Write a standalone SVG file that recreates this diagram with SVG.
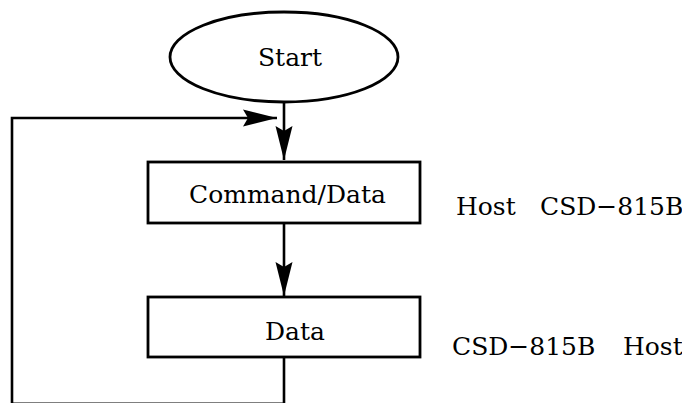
<svg xmlns="http://www.w3.org/2000/svg" width="682" height="403" viewBox="0 0 682 403">
<style>
.shape{fill:#fff;stroke:#000;stroke-width:2.8}
.conn{fill:none;stroke:#000;stroke-width:2.6}
.lbl{font-family:"DejaVu Serif","Liberation Serif",serif;font-size:25px;fill:#000}
</style>
<defs>
<marker id="ah" markerUnits="userSpaceOnUse" markerWidth="40" markerHeight="20" viewBox="-36 -10 40 20" refX="0" refY="0" orient="auto">
<path d="M0,0 L-34,-8.5 L-29,0 L-34,8.5 Z" fill="#000"/>
</marker>
</defs>
<rect width="682" height="403" fill="#fff"/>
<g id="connectors">
<path class="conn" d="M284,102 V160" marker-end="url(#ah)"/>
<path class="conn" d="M284,223 V296" marker-end="url(#ah)"/>
<path class="conn" d="M284,357 V403.8 H12 V118 H277" marker-end="url(#ah)"/>
</g>
<g id="start">
<ellipse class="shape" cx="284" cy="57" rx="114" ry="45"/>
<text class="lbl" x="290" y="66" text-anchor="middle">Start</text>
</g>
<g id="command">
<rect class="shape" x="148" y="162" width="272" height="61"/>
<text class="lbl" x="189" y="203">Command/Data</text>
</g>
<g id="data">
<rect class="shape" x="148" y="297" width="272" height="60"/>
<text class="lbl" x="265" y="340">Data</text>
</g>
<g id="labels">
<text class="lbl" y="215"><tspan x="456">Host</tspan><tspan x="540">CSD−815B</tspan></text>
<text class="lbl" y="355"><tspan x="452">CSD−815B</tspan><tspan x="623">Host</tspan></text>
</g>
</svg>
